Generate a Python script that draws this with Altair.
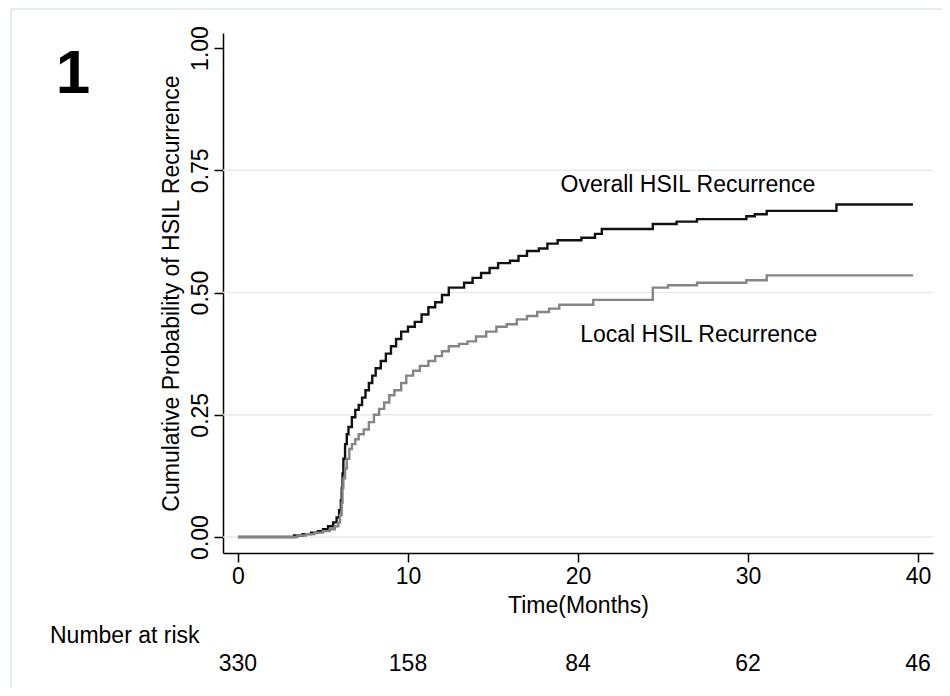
import altair as alt
import pandas as pd

# Overall HSIL recurrence (black step curve): time in months, cumulative probability
overall_t = [0, 3.0, 3.3, 3.8, 4.3, 4.7, 5.0, 5.3, 5.6, 5.8, 5.95, 6.05, 6.1, 6.15, 6.2, 6.3, 6.4, 6.5,
             6.7, 6.9, 7.1, 7.3, 7.5, 7.7, 7.9, 8.1, 8.4, 8.7, 9.0, 9.3, 9.6, 10.0, 10.4, 10.8, 11.2,
             11.6, 12.0, 12.4, 13.3, 13.8, 14.3, 14.8, 15.3, 16.0, 16.5, 17.0, 17.7, 18.2, 18.8, 20.2,
             21.0, 21.4, 24.4, 25.8, 27.0, 29.9, 30.4, 31.1, 35.2, 39.7]
overall_v = [0, 0, 0.003, 0.006, 0.009, 0.012, 0.016, 0.022, 0.03, 0.04, 0.055, 0.075, 0.10, 0.13, 0.16,
             0.19, 0.21, 0.225, 0.245, 0.26, 0.27, 0.285, 0.30, 0.315, 0.33, 0.345, 0.36, 0.375, 0.39,
             0.405, 0.42, 0.43, 0.44, 0.455, 0.47, 0.48, 0.495, 0.51, 0.52, 0.53, 0.54, 0.55, 0.56,
             0.565, 0.575, 0.585, 0.59, 0.60, 0.607, 0.612, 0.62, 0.63, 0.64, 0.645, 0.65, 0.656, 0.66,
             0.667, 0.68, 0.68]

# Local HSIL recurrence (grey step curve)
local_t = [0, 3.0, 3.5, 4.0, 4.5, 5.0, 5.4, 5.7, 5.9, 6.0, 6.1, 6.15, 6.2, 6.3, 6.4, 6.55, 6.7, 6.9, 7.1,
           7.4, 7.7, 8.0, 8.3, 8.6, 8.9, 9.2, 9.6, 9.9, 10.3, 10.7, 11.2, 11.6, 12.0, 12.4, 13.0, 13.5,
           14.0, 14.6, 15.2, 15.8, 16.4, 17.0, 17.6, 18.3, 18.9, 20.9, 24.4, 25.3, 27.0, 29.9, 31.1, 39.7]
local_v = [0, 0, 0.003, 0.006, 0.009, 0.012, 0.016, 0.022, 0.03, 0.045, 0.07, 0.10, 0.12, 0.14, 0.16,
           0.18, 0.19, 0.20, 0.21, 0.22, 0.235, 0.25, 0.262, 0.275, 0.29, 0.30, 0.315, 0.33, 0.34, 0.35,
           0.36, 0.37, 0.38, 0.39, 0.395, 0.40, 0.41, 0.42, 0.43, 0.435, 0.445, 0.452, 0.46, 0.467,
           0.475, 0.485, 0.51, 0.515, 0.52, 0.525, 0.535, 0.535]

series_names = ["Overall", "Local"]
series_colors = ["#111111", "#858585"]

x_ticks = [0, 10, 20, 30, 40]
y_ticks = [0, 0.25, 0.5, 0.75, 1.0]
grid_vals = [0, 0.25, 0.5, 0.75]

risk_times = [0, 10, 20, 30, 40]
risk_counts = ["330", "158", "84", "62", "46"]

label_text = ["Overall HSIL Recurrence", "Local HSIL Recurrence"]
label_t = [26.47, 27.1]
label_v = [0.7055, 0.399]

FONT = "Liberation Sans"

curves = pd.concat([
    pd.DataFrame({"t": overall_t, "v": overall_v, "series": "Overall"}),
    pd.DataFrame({"t": local_t, "v": local_v, "series": "Local"}),
])

xscale = alt.Scale(domain=[-0.88, 40.88], nice=False, zero=False)
yscale = alt.Scale(domain=[-0.0327, 1.0307], nice=False, zero=False)

xaxis = alt.Axis(values=x_ticks, title="Time(Months)", grid=False, tickSize=9, labelPadding=3,
                 titlePadding=6, format="d")
yaxis = alt.Axis(values=y_ticks, title="Cumulative Probability of HSIL Recurrence", grid=False,
                 tickSize=9, labelAngle=270, labelPadding=2, titlePadding=6, format=".2f")

X = alt.X("t:Q", scale=xscale, axis=xaxis)
Y = alt.Y("v:Q", scale=yscale, axis=yaxis)

grid = alt.Chart(pd.DataFrame({"v": grid_vals})).mark_rule(
    color="#e3ebee", strokeWidth=1.5
).encode(y=Y)

lines = alt.Chart(curves).mark_line(interpolate="step-after", strokeWidth=2.4).encode(
    x=X,
    y=Y,
    color=alt.Color("series:N", scale=alt.Scale(domain=series_names, range=series_colors), legend=None),
    detail="series:N",
)

labels = alt.Chart(pd.DataFrame({"t": label_t, "v": label_v, "text": label_text})).mark_text(
    font=FONT, fontSize=23, align="center", baseline="alphabetic", color="#000000"
).encode(x=X, y=Y, text="text:N")

risk = alt.Chart(pd.DataFrame({"t": risk_times, "n": risk_counts})).mark_text(
    font=FONT, fontSize=23, align="center", baseline="alphabetic", color="#000000"
).encode(x=X, y=alt.value(638), text="n:N")

risk_title = alt.Chart(pd.DataFrame({"text": ["Number at risk"]})).mark_text(
    font=FONT, fontSize=23, align="left", baseline="alphabetic", color="#000000"
).encode(x=alt.value(-173), y=alt.value(610), text="text:N")

panel_label = alt.Chart(pd.DataFrame({"text": ["1"]})).mark_text(
    font=FONT, fontSize=62, fontWeight="bold", align="center", baseline="alphabetic", color="#000000"
).encode(x=alt.value(-150), y=alt.value(60), text="text:N")

frame_left = alt.Chart(pd.DataFrame({"k": [0]})).mark_rule(color="#e3ebef", strokeWidth=2).encode(
    x=alt.value(-212), y=alt.value(-24), y2=alt.value(700))
frame_top = alt.Chart(pd.DataFrame({"k": [0]})).mark_rule(color="#e3ebef", strokeWidth=2).encode(
    x=alt.value(-212), x2=alt.value(740), y=alt.value(-24))

chart = alt.layer(
    frame_left, frame_top, grid, lines, labels, risk, risk_title, panel_label
).properties(
    width=710, height=520,
    autosize=alt.AutoSizeParams(type="none"),
    padding={"left": 215, "top": 25, "right": 9, "bottom": 135},
    background="#ffffff",
).configure_view(stroke=None).configure_axis(
    labelFont=FONT, titleFont=FONT, labelFontSize=23, titleFontSize=23,
    labelColor="#000000", titleColor="#000000", domainColor="#000000", tickColor="#000000",
    domainWidth=1.5, tickWidth=1.5, titleFontWeight="normal",
)

chart.save("out.html", embed_options={"renderer": "svg", "actions": False})
